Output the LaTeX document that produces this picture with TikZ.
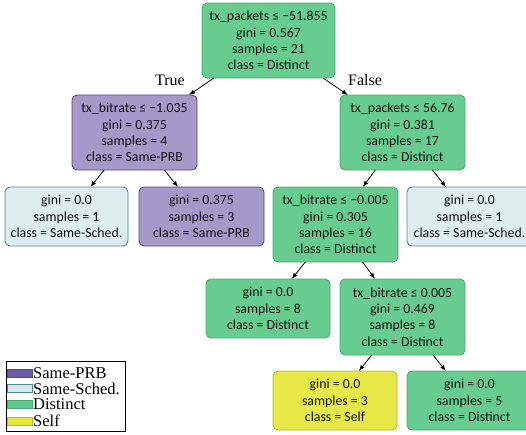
\documentclass[tikz,border=0pt]{standalone}
\usepackage{fontspec}
\setmainfont{Liberation Serif}
\newfontfamily\treefont{Carlito}
\usetikzlibrary{arrows.meta}

\definecolor{distinctfill}{RGB}{103,204,143}
\definecolor{distinctedge}{RGB}{76,168,112}
\definecolor{prbfill}{RGB}{164,153,201}
\definecolor{prbedge}{RGB}{84,72,136}
\definecolor{schedfill}{RGB}{221,237,237}
\definecolor{schededge}{RGB}{78,134,140}
\definecolor{selffill}{RGB}{229,232,70}
\definecolor{selfedge}{RGB}{184,186,46}
\definecolor{prbkey}{RGB}{108,92,166}
\definecolor{schedkey}{RGB}{212,234,234}
\definecolor{distinctkey}{RGB}{96,200,140}
\definecolor{selfkey}{RGB}{228,230,62}

\tikzset{
  tnode/.style={draw, rounded corners=5pt, line width=0.9pt, align=center,
    anchor=north, minimum width=125pt, inner sep=0pt, outer sep=0pt,
    text=black!92, font=\treefont\fontsize{13.8}{16.3}\selectfont},
  split/.style={tnode, minimum height=75pt},
  leaf/.style={tnode, minimum height=59pt},
  dist/.style={fill=distinctfill, draw=distinctedge},
  prb/.style={fill=prbfill, draw=prbedge},
  sched/.style={fill=schedfill, draw=schededge},
  slf/.style={fill=selffill, draw=selfedge},
  edge/.style={-{Latex[length=6pt,width=4.5pt]}, line width=0.8pt},
  tflabel/.style={font=\fontsize{16}{18}\selectfont},
}

\begin{document}
\begin{tikzpicture}[x=1pt,y=-1pt]
  \useasboundingbox (0,0) rectangle (526,434);
  % splits and leaves, top to bottom
  \node[split,dist,minimum width=133pt] (root) at (268.5,3)
    {tx\_packets ≤ −51.855\\gini = 0.567\\samples = 21\\class = Distinct};
  \node[split,prb] (bitA) at (134.5,95)
    {tx\_bitrate ≤ −1.035\\gini = 0.375\\samples = 4\\class = Same-PRB};
  \node[split,dist] (pktB) at (402.5,95)
    {tx\_packets ≤ 56.76\\gini = 0.381\\samples = 17\\class = Distinct};
  \node[leaf,sched,minimum width=123pt] (leafA) at (66.5,187)
    {gini = 0.0\\samples = 1\\class = Same-Sched.};
  \node[leaf,prb] (leafB) at (201.5,187)
    {gini = 0.375\\samples = 3\\class = Same-PRB};
  \node[split,dist] (bitC) at (335.5,187)
    {tx\_bitrate ≤ −0.005\\gini = 0.305\\samples = 16\\class = Distinct};
  \node[leaf,sched] (leafC) at (469.5,187)
    {gini = 0.0\\samples = 1\\class = Same-Sched.};
  \node[leaf,dist,minimum width=124pt] (leafD) at (268,279)
    {gini = 0.0\\samples = 8\\class = Distinct};
  \node[split,dist,minimum height=76pt] (bitD) at (402.5,279)
    {tx\_bitrate ≤ 0.005\\gini = 0.469\\samples = 8\\class = Distinct};
  \node[leaf,slf,minimum width=124pt] (leafE) at (335,371)
    {gini = 0.0\\samples = 3\\class = Self};
  \node[leaf,dist] (leafF) at (469.5,371)
    {gini = 0.0\\samples = 5\\class = Distinct};

  \draw[edge] (root) -- (bitA);
  \draw[edge] (root) -- (pktB);
  \draw[edge] (bitA) -- (leafA);
  \draw[edge] (bitA) -- (leafB);
  \draw[edge] (pktB) -- (bitC);
  \draw[edge] (pktB) -- (leafC);
  \draw[edge] (bitC) -- (leafD);
  \draw[edge] (bitC) -- (bitD);
  \draw[edge] (bitD) -- (leafE);
  \draw[edge] (bitD) -- (leafF);

  \node[tflabel] (true) at (170,80) {True};
  \node[tflabel] (false) at (365,80) {False};

  % legend
  \draw[line width=0.8pt] (6,361) rectangle (125,431);
  \foreach \i/\fc/\ec/\yy/\name in {1/prbkey/prbedge/373/Same-PRB,
      2/schedkey/schededge/388.5/Same-Sched.,
      3/distinctkey/distinctedge/404/Distinct,
      4/selfkey/selfedge/421/Self}{
    \draw[fill=\fc,draw=\ec,line width=0.8pt] (7,\yy-4) rectangle (32,\yy+4);
    \node[anchor=west,inner sep=0pt,font=\fontsize{16.5}{18}\selectfont] (key\i) at (33,\yy) {\name};
  }
\end{tikzpicture}
\end{document}
